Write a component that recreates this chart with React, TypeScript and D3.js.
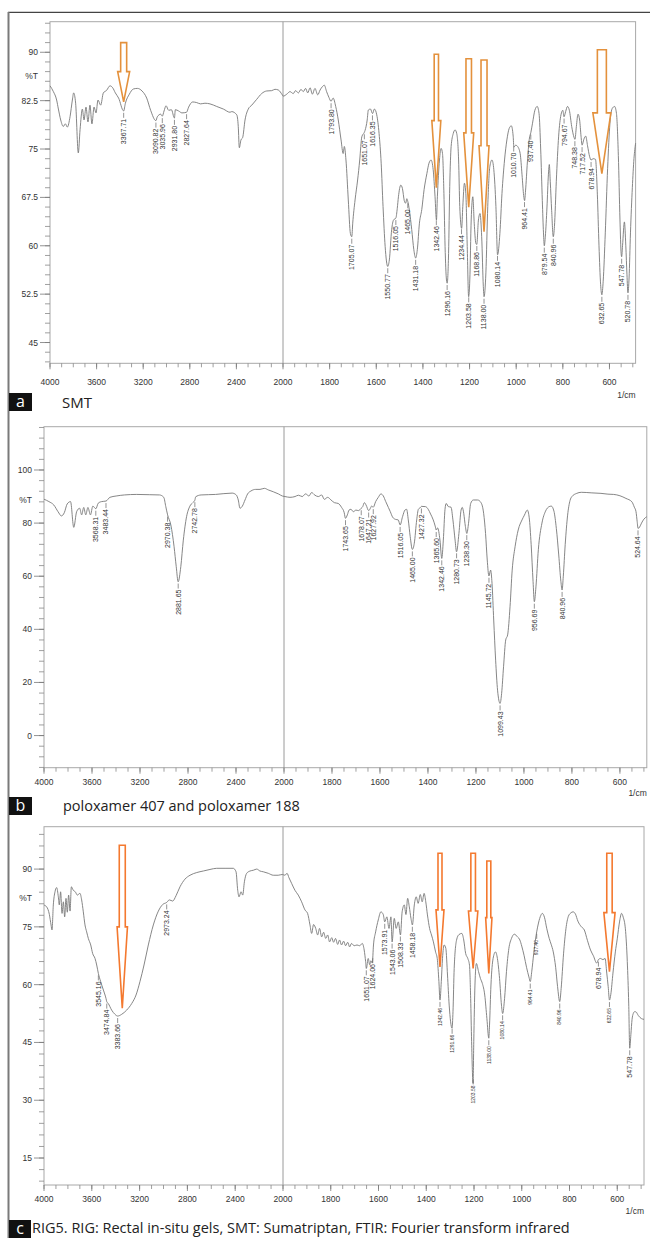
import React from "react";
import * as d3 from "d3";

// tick labels
const xLabelsLeft = [4000, 3600, 3200, 2800, 2400, 2000];
const xLabelsRight = [1800, 1600, 1400, 1200, 1000, 800, 600];
const yTicksA = [45, 52.5, 60, 67.5, 75, 82.5, 90];
const yTicksB = [0, 20, 40, 60, 80, 100];
const yTicksC = [15, 30, 45, 60, 75, 90];

// SMT spectrum [wavenumber, %T]
const specA: [number, number][] = [
  [4000, 84.8], [3971, 83.9], [3943, 82.6], [3928, 81.2], [3908, 79.5], [3886, 78.5], [3868, 78.9], [3851, 78.4],
  [3828, 80.0], [3808, 82.6], [3797, 83.7], [3780, 82.1], [3757, 74.4], [3742, 78.0], [3722, 81.2], [3708, 79.5],
  [3691, 81.5], [3674, 79.2], [3657, 81.8], [3640, 78.9], [3622, 81.5], [3605, 80.6], [3588, 82.6], [3565, 81.8],
  [3542, 83.7], [3514, 84.1], [3485, 84.8], [3462, 84.5], [3439, 83.7], [3411, 82.9], [3368, 80.9], [3353, 82.1],
  [3319, 83.5], [3285, 84.3], [3250, 84.4], [3210, 84.0], [3170, 82.9], [3136, 81.0], [3091, 79.4], [3079, 80.0],
  [3050, 80.4], [3036, 80.1], [3021, 80.9], [3004, 81.7], [2981, 81.0], [2958, 81.1], [2932, 79.8], [2924, 81.1],
  [2896, 80.9], [2867, 80.6], [2828, 80.7], [2810, 81.5], [2775, 82.3], [2741, 82.2], [2707, 82.0], [2670, 82.1],
  [2627, 82.0], [2569, 81.6], [2512, 81.2], [2455, 80.7], [2440, 80.8], [2397, 80.3], [2384, 78.5], [2375, 75.2],
  [2361, 76.4], [2346, 76.8], [2326, 79.5], [2298, 81.2], [2268, 81.8], [2226, 82.7], [2183, 83.6], [2140, 84.0],
  [2097, 84.05], [2069, 84.26], [2040, 84.15], [2006, 83.4], [1999, 83.2], [1984, 83.5], [1970, 83.9], [1956, 83.6],
  [1946, 84.05], [1934, 83.7], [1923, 84.25], [1913, 83.9], [1903, 84.4], [1894, 83.7], [1884, 84.5], [1874, 83.5],
  [1863, 84.4], [1851, 83.4], [1841, 84.15], [1831, 84.67], [1823, 84.9], [1813, 83.9], [1803, 83.0], [1794, 82.4],
  [1785, 82.9], [1774, 81.6], [1763, 79.5], [1751, 76.4], [1742, 74.3], [1737, 75.4], [1730, 73.3], [1720, 67.1],
  [1711, 61.9], [1705, 61.4], [1701, 63.5], [1691, 67.1], [1680, 70.2], [1671, 73.3], [1662, 76.9], [1651, 77.6],
  [1648, 77.9], [1639, 79.5], [1634, 81.05], [1625, 81.2], [1616, 80.5], [1608, 81.2], [1598, 80.3], [1588, 77.4],
  [1579, 72.8], [1571, 66.1], [1562, 59.9], [1551, 56.8], [1544, 57.8], [1534, 62.5], [1526, 64.0], [1516, 64.3],
  [1510, 65.8], [1505, 67.6], [1495, 69.4], [1488, 68.9], [1480, 67.0], [1474, 66.6], [1469, 67.3], [1465, 66.9],
  [1458, 65.5], [1448, 62.5], [1439, 59.4], [1431, 58.1], [1424, 59.4], [1415, 63.5], [1405, 65.6], [1395, 68.7],
  [1383, 71.2], [1374, 72.8], [1365, 73.3], [1356, 71.8], [1348, 67.6], [1342, 64.0], [1338, 67.6], [1329, 73.3],
  [1322, 75.1], [1316, 74.3], [1310, 68.1], [1305, 59.9], [1299, 54.7], [1296, 54.2], [1290, 58.8], [1285, 69.2],
  [1279, 75.4], [1270, 77.4], [1262, 77.96], [1255, 77.4], [1247, 73.3], [1242, 66.1], [1234, 62.7], [1229, 66.1],
  [1222, 69.7], [1216, 68.1], [1210, 59.9], [1204, 52.1], [1199, 54.7], [1193, 64.0], [1186, 67.6], [1180, 63.5],
  [1173, 60.4], [1169, 60.2], [1162, 64.0], [1155, 65.0], [1148, 61.4], [1141, 53.7], [1138, 52.1], [1130, 55.8],
  [1122, 66.1], [1113, 72.3], [1104, 73.3], [1096, 71.8], [1087, 66.1], [1080, 58.6], [1070, 61.9], [1061, 68.1],
  [1050, 73.3], [1040, 76.4], [1030, 78.2], [1021, 78.6], [1013, 77.0], [1010, 75.3], [1002, 75.6], [994, 75.4],
  [983, 74.3], [975, 71.0], [968, 67.8], [964, 67.0], [960, 68.5], [952, 73.0], [944, 76.5], [937, 77.6],
  [930, 79.0], [920, 81.0], [910, 81.6], [902, 80.5], [895, 75.0], [888, 67.0], [883, 62.0], [879.5, 60.0],
  [875, 61.5], [868, 66.0], [862, 71.0], [858, 72.6], [854, 70.0], [848, 65.5], [841, 61.4], [836, 63.0],
  [828, 70.0], [818, 77.0], [808, 80.3], [800, 81.0], [795, 80.0], [788, 80.8], [780, 81.6], [772, 81.0],
  [762, 78.5], [752, 76.8], [748, 76.5], [742, 78.5], [735, 80.4], [728, 79.5], [722, 77.0], [717.5, 75.6],
  [710, 76.5], [702, 77.0], [694, 75.5], [685, 73.8], [679, 73.3], [670, 73.5], [660, 73.4], [652, 68.0],
  [645, 60.0], [638, 54.0], [632.65, 52.4], [627, 54.5], [618, 62.0], [608, 72.0], [598, 79.0], [588, 81.3],
  [578, 81.6], [570, 80.5], [562, 74.0], [555, 64.0], [550, 58.8], [547.78, 58.3], [544, 60.0], [536, 63.7],
  [530, 60.0], [525, 55.5], [520.78, 52.7], [516, 55.0], [510, 62.0], [502, 69.0], [495, 73.5], [488, 75.9],
];

// poloxamer spectrum
const specB: [number, number][] = [
  [4000, 89.0], [3959, 88.1], [3918, 86.8], [3883, 84.3], [3855, 82.7], [3831, 83.9], [3807, 87.2], [3779, 88.1],
  [3752, 78.4], [3728, 84.3], [3703, 85.6], [3686, 83.1], [3669, 85.9], [3652, 83.1], [3634, 85.9], [3613, 83.1],
  [3593, 86.4], [3568, 85.4], [3548, 87.5], [3520, 88.1], [3483, 88.3], [3451, 89.7], [3399, 90.2], [3330, 90.6],
  [3227, 90.8], [3123, 90.7], [3037, 90.6], [3002, 89.7], [2985, 86.2], [2970, 83.1], [2943, 79.3], [2916, 71.1],
  [2898, 63.6], [2882, 57.9], [2860, 63.6], [2839, 73.6], [2812, 82.4], [2784, 86.4], [2760, 87.7], [2743, 88.6],
  [2736, 89.9], [2691, 90.6], [2570, 90.8], [2432, 91.3], [2398, 90.6], [2381, 88.7], [2367, 85.6], [2347, 86.4],
  [2325, 88.7], [2303, 91.0], [2275, 92.1], [2236, 92.7], [2200, 92.7], [2164, 93.1], [2131, 92.5], [2089, 91.8],
  [2047, 91.0], [2014, 90.2], [1996, 90.0], [1975, 89.7], [1954, 90.0], [1940, 90.5], [1924, 90.0], [1910, 91.0],
  [1896, 90.2], [1885, 91.5], [1871, 90.5], [1857, 90.0], [1843, 90.6], [1832, 88.95], [1818, 89.7], [1804, 88.7],
  [1790, 87.7], [1774, 87.4], [1760, 85.9], [1749, 83.9], [1744, 81.8], [1736, 83.1], [1729, 84.9], [1721, 85.2],
  [1711, 84.3], [1700, 84.9], [1690, 84.7], [1678, 85.6], [1672, 86.2], [1665, 87.7], [1658, 86.8], [1647, 84.7],
  [1640, 85.6], [1635, 86.4], [1628, 86.0], [1618, 88.1], [1607, 89.7], [1596, 91.0], [1586, 90.2], [1576, 88.1],
  [1565, 85.9], [1557, 84.3], [1547, 82.2], [1535, 81.4], [1524, 81.2], [1516, 79.3], [1506, 82.4], [1496, 84.9],
  [1489, 85.2], [1482, 81.2], [1474, 74.9], [1465, 70.1], [1457, 72.4], [1447, 81.2], [1440, 85.2], [1431, 85.9],
  [1427, 86.3], [1410, 86.2], [1399, 85.2], [1389, 83.4], [1378, 81.2], [1370, 78.9], [1365.6, 77.4], [1360, 78.2],
  [1350, 73.6], [1342.5, 66.7], [1336, 73.6], [1329, 85.2], [1324, 87.4], [1315, 86.2], [1304, 86.0], [1296, 81.2],
  [1287, 73.6], [1281, 69.2], [1271, 76.1], [1262, 84.9], [1257, 85.9], [1251, 83.7], [1244, 78.7], [1238, 76.1],
  [1231, 79.9], [1222, 87.4], [1211, 88.7], [1193, 88.7], [1179, 87.7], [1168, 83.7], [1160, 76.1], [1153, 66.1],
  [1146, 60.1], [1139, 62.3], [1133, 57.3], [1126, 43.5], [1118, 28.4], [1110, 17.1], [1099.4, 12.1], [1093, 15.9],
  [1085, 25.9], [1076, 36.0], [1068, 37.9], [1058, 48.5], [1049, 62.3], [1037, 71.1], [1024, 77.4], [1008, 81.2],
  [998, 83.0], [986, 84.9], [978, 82.0], [970, 72.0], [962, 58.0], [956.7, 50.4], [950, 56.0], [940, 70.0],
  [925, 80.0], [910, 84.5], [895, 86.2], [886, 86.4], [875, 84.5], [865, 78.0], [855, 68.0], [846, 58.0],
  [841, 54.8], [836, 60.0], [828, 72.0], [818, 83.0], [808, 88.5], [800, 90.0], [780, 91.2], [761, 91.6],
  [720, 91.4], [679, 91.2], [650, 90.9], [626, 90.8], [600, 90.3], [575, 89.3], [550, 88.0], [540, 86.0],
  [533, 84.3], [528, 80.5], [524.6, 78.0], [518, 78.5], [510, 80.0], [500, 81.5], [488, 82.4],
];

// RIG spectrum
const specC: [number, number][] = [
  [4000, 80.66], [3978, 80.2], [3955, 78.2], [3941, 75.5], [3933, 74.2], [3922, 80.7], [3908, 84.1], [3894, 85.2],
  [3880, 82.8], [3872, 80.7], [3861, 84.1], [3849, 78.5], [3838, 81.5], [3827, 77.6], [3816, 82.4], [3805, 78.8],
  [3794, 83.25], [3782, 79.1], [3771, 85.4], [3755, 84.5], [3738, 84.1], [3721, 83.25], [3699, 83.7], [3685, 82.0],
  [3671, 78.9], [3657, 75.5], [3643, 73.7], [3629, 72.0], [3609, 70.3], [3593, 68.1], [3573, 66.8], [3559, 65.1],
  [3545, 62.9], [3526, 60.8], [3503, 58.6], [3481, 56.4], [3475, 55.6], [3462, 55.1], [3434, 53.4], [3406, 52.3],
  [3384, 51.85], [3350, 52.3], [3308, 53.4], [3266, 55.1], [3230, 57.3], [3197, 60.8], [3163, 65.1], [3127, 70.3],
  [3085, 75.5], [3043, 79.1], [3007, 80.8], [2973, 81.35], [2951, 82.0], [2923, 81.7], [2895, 83.1], [2862, 85.4],
  [2820, 87.4], [2778, 88.4], [2722, 89.1], [2667, 89.5], [2611, 89.9], [2555, 90.2], [2485, 90.2], [2416, 90.2],
  [2393, 89.3], [2379, 84.5], [2368, 82.8], [2351, 84.1], [2337, 83.25], [2323, 86.7], [2304, 88.9], [2276, 89.5],
  [2248, 89.7], [2220, 90.0], [2193, 89.5], [2165, 89.3], [2123, 88.9], [2081, 88.4], [2040, 88.4], [2006, 88.6],
  [1992, 88.4], [1983, 88.9], [1975, 87.75], [1964, 86.3], [1950, 84.5], [1936, 83.25], [1922, 81.5], [1908, 79.4],
  [1897, 78.5], [1887, 75.5], [1880, 73.3], [1872, 75.6], [1863, 74.6], [1855, 72.9], [1847, 74.6], [1838, 72.4],
  [1830, 73.6], [1821, 72.0], [1813, 72.9], [1805, 71.1], [1796, 72.2], [1788, 71.0], [1780, 72.0], [1771, 70.45],
  [1763, 71.6], [1755, 70.3], [1746, 71.3], [1738, 70.1], [1729, 71.0], [1721, 69.8], [1713, 70.7], [1702, 70.1],
  [1690, 70.3], [1679, 70.1], [1668, 70.7], [1660, 69.0], [1654, 66.0], [1651, 64.2], [1643, 66.8], [1637, 65.2],
  [1632, 66.2], [1626, 65.6], [1621, 70.3], [1612, 73.7], [1601, 76.8], [1590, 78.9], [1580, 78.2], [1574, 76.3],
  [1565, 77.6], [1556, 74.6], [1548, 77.6], [1543, 71.1], [1534, 77.2], [1526, 74.6], [1517, 76.3], [1508, 72.9],
  [1501, 78.9], [1492, 80.7], [1485, 78.2], [1478, 82.4], [1471, 80.2], [1464, 77.2], [1458, 75.5], [1450, 80.7],
  [1442, 82.8], [1434, 81.1], [1425, 83.4], [1417, 81.5], [1409, 83.7], [1402, 81.5], [1395, 78.1], [1386, 74.6],
  [1378, 72.9], [1370, 71.1], [1361, 68.5], [1354, 66.8], [1347, 60.8], [1342.5, 56.0], [1337, 60.8], [1332, 66.8],
  [1325, 70.3], [1318, 69.4], [1311, 62.5], [1304, 54.7], [1292, 48.7], [1288, 53.0], [1283, 64.2], [1273, 71.6],
  [1263, 73.0], [1251, 73.3], [1243, 71.6], [1235, 68.1], [1226, 66.8], [1219, 65.1], [1214, 56.4], [1210, 45.2],
  [1204, 34.4], [1201, 45.2], [1196, 59.9], [1190, 65.5], [1181, 63.4], [1173, 61.6], [1165, 60.3], [1155, 57.3],
  [1146, 51.2], [1138, 46.1], [1135, 49.5], [1129, 59.9], [1120, 66.8], [1110, 68.5], [1102, 66.8], [1093, 61.6],
  [1085, 54.7], [1080, 52.5], [1072, 56.4], [1064, 63.4], [1054, 69.4], [1043, 72.0], [1031, 73.1], [1018, 72.4],
  [1008, 71.6], [1000, 70.0], [990, 67.5], [980, 64.5], [970, 62.0], [964.4, 60.8], [958, 63.5], [950, 68.0],
  [943, 71.5], [937.4, 73.7], [930, 76.0], [920, 78.0], [914, 78.5], [905, 77.5], [895, 74.5], [885, 72.0],
  [877, 70.5], [868, 68.5], [858, 64.5], [850, 59.5], [841, 55.6], [835, 59.0], [825, 68.0], [815, 74.5],
  [805, 77.7], [795, 78.6], [785, 78.9], [775, 78.3], [765, 76.5], [750, 75.0], [738, 74.2], [725, 71.5],
  [712, 69.0], [700, 67.5], [686, 65.6], [679, 66.5], [670, 66.8], [660, 66.5], [651, 66.8], [644, 63.0],
  [638, 59.5], [632.65, 56.0], [627, 57.5], [618, 63.0], [608, 68.5], [600, 71.9], [590, 76.5], [582, 78.5],
  [575, 77.5], [566, 74.5], [558, 66.0], [552, 55.0], [547.78, 43.5], [543, 47.0], [538, 51.0], [533, 52.5],
  [527, 53.0], [521, 52.9], [512, 52.0], [505, 51.5], [499, 51.2], [488, 51.0],
];

// peak labels
const peaksA = [3367.71, 3090.82, 3035.96, 2931.80, 2827.64, 1793.80, 1705.07, 1651.07, 1616.35, 1550.77, 1516.05,
  1465.00, 1431.18, 1342.46, 1296.16, 1234.44, 1203.58, 1168.86, 1138.00, 1080.14, 1010.70, 964.41, 937.40,
  879.54, 840.96, 794.67, 748.38, 717.52, 678.94, 632.65, 547.78, 520.78];
const peaksB = [3568.31, 3483.44, 2970.38, 2881.65, 2742.78, 1743.65, 1678.07, 1647.21, 1627.92, 1516.05, 1465.00,
  1427.32, 1365.60, 1342.46, 1280.73, 1238.30, 1145.72, 1099.43, 956.69, 840.96, 524.64];
const peaksC = [3545.16, 3474.84, 3383.66, 2973.24, 1651.07, 1624.06, 1573.91, 1543.06, 1508.33, 1458.18, 1342.46,
  1291.66, 1203.58, 1138.00, 1080.14, 964.41, 937.40, 840.96, 678.94, 632.65, 547.78];
const peaksCSmall = [1342.46, 1291.66, 1203.58, 1138.00, 1080.14, 964.41, 937.40, 840.96, 632.65];

// arrows: wavenumber, %T at shaft top, at head start, at tip
const arrowsA = [
  { wn: 3367.71, top: 91.5, neck: 87.0, tip: 82.3 },
  { wn: 1342.46, top: 89.7, neck: 79.4, tip: 69.0 },
  { wn: 1203.58, top: 89.0, neck: 77.5, tip: 66.0 },
  { wn: 1138.0, top: 88.8, neck: 75.5, tip: 62.2 },
  { wn: 632.65, top: 90.4, neck: 80.6, tip: 71.2 },
];
const arrowsC = [
  { wn: 3345, top: 96.2, neck: 75.0, tip: 53.9 },
  { wn: 1342.46, top: 94.1, neck: 79.4, tip: 64.6 },
  { wn: 1203.58, top: 94.1, neck: 79.1, tip: 64.2 },
  { wn: 1138.0, top: 92.1, neck: 77.4, tip: 62.9 },
  { wn: 632.65, top: 94.1, neck: 78.7, tip: 63.4 },
];

const FONT = "'Liberation Sans', Arial, sans-serif";
const CAP = "'Open Sans', 'Noto Sans', sans-serif";

function Panel(props: any) {
  const c = props.cfg;
  const left = d3.scaleLinear().domain([4000, 2000]).range([c.x0, c.xm]);
  const right = d3.scaleLinear().domain([2000, c.wnEnd]).range([c.xm, c.x1]);
  const x = (w: number) => (w >= 2000 ? left(w) : right(w));
  const y = d3.scaleLinear().domain([c.tMin, c.tMax]).range([c.yBottom, c.yTop]);

  const line = d3.line<[number, number]>()
    .x(d => x(d[0]))
    .y(d => y(d[1]))
    .curve(d3.curveMonotoneX);

  const spec: [number, number][] = c.spec;
  const valueAt = (w: number) => {
    for (let i = 0; i < spec.length - 1; i++) {
      const a = spec[i], b = spec[i + 1];
      if (w <= a[0] && w >= b[0]) {
        const t = (a[0] - w) / (a[0] - b[0]);
        return a[1] + (b[1] - a[1]) * t;
      }
    }
    return spec[spec.length - 1][1];
  };

  const first = c.yTicks[0] - Math.floor((c.yTicks[0] - c.tMin) / c.minor + 1e-6) * c.minor;
  const minorY = d3.range(first, c.tMax, c.minor);
  const minorXL = d3.range(4000, 2000, -100);
  const minorXR = d3.range(2000, c.wnEnd, -50);

  return (
    <g>
      <rect x={c.x0} y={c.yTop} width={c.x1 - c.x0} height={c.yBottom - c.yTop} fill="none" stroke="#a8a8a8" strokeWidth={1} />
      <line x1={c.xm} x2={c.xm} y1={c.yTop} y2={c.yBottom} stroke="#9a9a9a" strokeWidth={1} />
      {minorY.map((t: number, i: number) => (
        <line key={"my" + i} x1={c.x0 - 5} x2={c.x0} y1={y(t)} y2={y(t)} stroke="#888" strokeWidth={0.8} />
      ))}
      {c.yTicks.map((t: number) => (
        <g key={"yt" + t}>
          <line x1={c.x0 - 10} x2={c.x0} y1={y(t)} y2={y(t)} stroke="#777" strokeWidth={0.8} />
          <text x={c.x0 - 12} y={y(t) + 3} textAnchor="end" fontSize={8.5} fontFamily={FONT} fill="#333">{String(t)}</text>
        </g>
      ))}
      <text x={c.x0 - 12} y={c.pctY} textAnchor="end" fontSize={8.5} fontFamily={FONT} fill="#333">%T</text>
      {minorXL.concat(minorXR).map((w: number, i: number) => (
        <line key={"mx" + i} x1={x(w)} x2={x(w)} y1={c.yBottom} y2={c.yBottom + 4} stroke="#888" strokeWidth={0.8} />
      ))}
      {xLabelsLeft.concat(xLabelsRight).map((w: number) => (
        <g key={"xt" + w}>
          <line x1={x(w)} x2={x(w)} y1={c.yBottom} y2={c.yBottom + 6} stroke="#777" strokeWidth={0.8} />
          <text x={x(w)} y={c.xLabelY} textAnchor="middle" fontSize={8.5} fontFamily={FONT} fill="#333">{String(w)}</text>
        </g>
      ))}
      <text x={c.x1} y={c.unitY} textAnchor="end" fontSize={8.5} fontFamily={FONT} fill="#333">1/cm</text>
      <path d={line(spec) || ""} fill="none" stroke="#787878" strokeWidth={0.9} />
      {c.peaks.map((w: number) => {
        const px = x(w);
        const py = y(valueAt(w));
        const small = (c.small || []).indexOf(w) >= 0;
        const fs = small ? 5 : 7;
        return (
          <g key={"pk" + w}>
            <line x1={px} x2={px} y1={py + 2} y2={py + 7} stroke="#666" strokeWidth={0.7} />
            <text transform={`translate(${px},${py + 8}) rotate(-90)`} dy="0.35em" textAnchor="end"
              fontSize={fs} fontFamily={FONT} fill="#333">{w.toFixed(2)}</text>
          </g>
        );
      })}
      {(c.arrows || []).map((a: any, i: number) => {
        const ax = x(a.wn);
        const sw = c.arrowSizes[i][0] / 2;
        const hw = c.arrowSizes[i][1] / 2;
        const pts = [
          [ax - sw, y(a.top)], [ax + sw, y(a.top)], [ax + sw, y(a.neck)], [ax + hw, y(a.neck)],
          [ax, y(a.tip)], [ax - hw, y(a.neck)], [ax - sw, y(a.neck)],
        ];
        return (
          <polygon key={"ar" + i} points={pts.map(p => p.join(",")).join(" ")}
            fill="none" stroke={c.arrowColor} strokeWidth={1.6} strokeLinejoin="miter" />
        );
      })}
    </g>
  );
}

const cfgA = {
  x0: 50, xm: 283, x1: 635.6, wnEnd: 488, yTop: 21.7, yBottom: 363.3, tMin: 41.78, tMax: 94.74, minor: 1.5,
  yTicks: yTicksA, xLabelY: 384.5, unitY: 398, pctY: 79, spec: specA, peaks: peaksA, arrows: arrowsA,
  arrowColor: "#e4913c", arrowSizes: [[6, 12], [4.3, 9], [5.5, 10], [6, 10], [9, 18]],
};
const cfgB = {
  x0: 44, xm: 284, x1: 646.8, wnEnd: 488, yTop: 426.7, yBottom: 767.7, tMin: -12.1, tMax: 116.3, minor: 4,
  yTicks: yTicksB, xLabelY: 785, unitY: 796, pctY: 503, spec: specB, peaks: peaksB,
};
const cfgC = {
  x0: 44, xm: 283, x1: 644, wnEnd: 488, yTop: 826.7, yBottom: 1185, tMin: 8, tMax: 101, minor: 3,
  yTicks: yTicksC, xLabelY: 1202, unitY: 1214, pctY: 901, spec: specC, peaks: peaksC, small: peaksCSmall,
  arrows: arrowsC, arrowColor: "#f4792f", arrowSizes: [[6, 10.4], [4, 8], [4.6, 9.4], [4, 6.3], [5.4, 11.2]],
};

function Tag(props: { x: number; y: number; w: number; letter: string }) {
  return (
    <g>
      <rect x={props.x} y={props.y} width={props.w} height={18} fill="#111" />
      <text x={props.x + props.w / 2} y={props.y + 14} textAnchor="middle" fontSize={16} fontFamily={CAP} fill="#fff">{props.letter}</text>
    </g>
  );
}

export default function App() {
  return (
    <svg width={650} height={1238} style={{ position: "absolute", left: 0, top: 0, display: "block", background: "#fff" }}>
      <rect x={0} y={0} width={650} height={1238} fill="#fff" />
      <line x1={8} x2={650} y1={12.3} y2={12.3} stroke="#444" strokeWidth={1.2} />
      <line x1={8.5} x2={8.5} y1={12} y2={1238} stroke="#7a7a7a" strokeWidth={2} />
      <Panel cfg={cfgA} />
      <Panel cfg={cfgB} />
      <Panel cfg={cfgC} />
      <Tag x={9} y={393} w={23} letter="a" />
      <text x={62} y={408} fontSize={15} fontFamily={CAP} fill="#222">SMT</text>
      <Tag x={9} y={797} w={23} letter="b" />
      <text x={63} y={811} fontSize={14.5} fontFamily={CAP} fill="#222">poloxamer 407 and poloxamer 188</text>
      <Tag x={9} y={1220} w={22} letter="c" />
      <text x={32} y={1233} fontSize={14.5} fontFamily={CAP} fill="#222">RIG5. RIG: Rectal in-situ gels, SMT: Sumatriptan, FTIR: Fourier transform infrared</text>
    </svg>
  );
}
